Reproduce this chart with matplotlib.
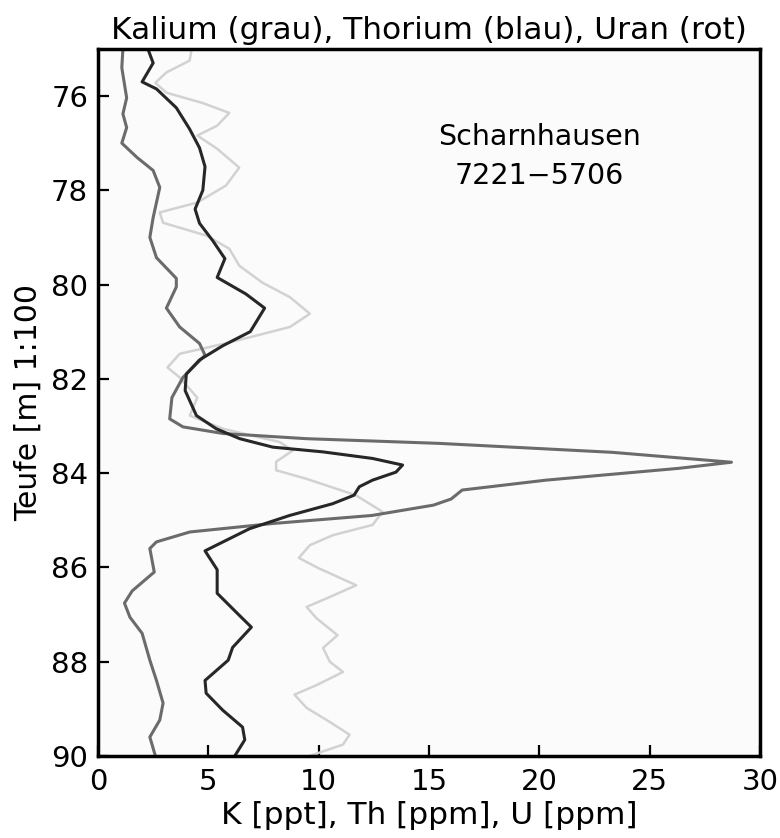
import matplotlib
matplotlib.use("Agg")
import matplotlib.pyplot as plt

# Kalium (light grey curve)
k_depth = [75.0, 75.25, 75.5, 75.72, 75.93, 76.15, 76.36, 76.63, 76.84, 77.12, 77.52, 77.9,
           78.26, 78.47, 78.69, 78.96, 79.24, 79.6, 79.96, 80.27, 80.62, 80.9, 81.23, 81.47,
           81.76, 81.97, 82.4, 82.78, 83.06, 83.34, 83.52, 83.76, 83.94, 84.12, 84.47, 84.82,
           85.1, 85.32, 85.53, 85.8, 86.02, 86.38, 86.63, 86.84, 87.08, 87.44, 87.71, 88.0,
           88.22, 88.5, 88.7, 88.98, 89.28, 89.55, 89.76, 90.0]
k_val = [4.25, 4.15, 3.1, 2.6, 3.1, 4.75, 5.95, 5.4, 4.5, 5.4, 6.4, 5.8,
         4.5, 2.8, 2.95, 4.9, 5.95, 6.4, 7.45, 8.7, 9.6, 8.7, 5.95, 3.7,
         3.15, 3.7, 4.5, 4.16, 5.66, 8.22, 8.83, 8.07, 8.07, 9.43, 11.68, 12.89,
         12.44, 10.63, 9.6, 9.1, 10.0, 11.7, 10.5, 9.45, 9.9, 10.85, 10.2, 10.5,
         11.1, 9.9, 8.9, 9.45, 10.5, 11.4, 11.1, 9.6]

# Thorium (dark curve)
th_depth = [75.0, 75.3, 75.7, 75.85, 76.25, 76.7, 77.1, 77.5, 78.0, 78.4, 78.7, 79.07,
            79.45, 79.85, 80.2, 80.5, 81.0, 81.3, 81.6, 81.9, 82.25, 82.78, 83.06, 83.27,
            83.45, 83.55, 83.69, 83.83, 83.98, 84.15, 84.29, 84.47, 84.65, 84.9, 85.18, 85.65,
            86.05, 86.55, 86.97, 87.27, 87.7, 87.97, 88.4, 88.67, 89.03, 89.39, 89.66, 90.0]
th_val = [2.26, 2.5, 2.0, 2.65, 3.55, 4.15, 4.6, 4.85, 4.75, 4.4, 4.6, 5.2,
          5.75, 5.4, 6.7, 7.55, 6.9, 5.65, 4.6, 4.0, 3.95, 4.46, 5.36, 6.42,
          7.92, 10.18, 12.44, 13.8, 13.5, 12.44, 11.84, 11.6, 10.63, 8.68, 6.87, 4.85,
          5.4, 5.4, 6.3, 6.95, 6.1, 5.9, 4.85, 4.9, 5.65, 6.55, 6.65, 6.2]

# Uran (medium grey curve)
u_depth = [75.0, 75.4, 76.04, 76.38, 76.67, 77.0, 77.3, 77.58, 77.94, 78.58, 79.0, 79.43,
           79.87, 80.05, 80.5, 80.9, 81.25, 81.5, 81.97, 82.4, 82.85, 83.02, 83.16, 83.27,
           83.37, 83.56, 83.77, 83.9, 84.15, 84.36, 84.55, 84.68, 84.9, 85.07, 85.25, 85.46,
           85.6, 86.1, 86.5, 86.76, 87.06, 87.4, 87.97, 88.4, 88.88, 89.24, 89.6, 90.0]
u_val = [1.13, 1.08, 1.3, 1.13, 1.3, 1.08, 1.76, 2.5, 2.8, 2.5, 2.35, 2.65,
         3.55, 3.55, 3.1, 3.7, 4.6, 4.85, 3.85, 3.35, 3.25, 3.85, 5.66, 9.43,
         15.45, 23.3, 28.7, 26.3, 20.3, 16.5, 16.0, 15.2, 12.4, 7.92, 4.16, 2.65,
         2.35, 2.55, 1.55, 1.2, 1.45, 2.0, 2.35, 2.65, 2.95, 2.8, 2.35, 2.6]

xticks = [0, 5, 10, 15, 20, 25, 30]
yticks = [76, 78, 80, 82, 84, 86, 88, 90]

fig = plt.figure(figsize=(7.8, 8.38), dpi=100)
ax = fig.add_axes([0.1256, 0.098, 0.849, 0.8437])
ax.set_facecolor('#fbfbfb')

ax.plot(k_val, k_depth, color='#d2d2d2', lw=1.8, solid_joinstyle='round')
ax.plot(u_val, u_depth, color='#6b6b6b', lw=2.2, solid_joinstyle='round')
ax.plot(th_val, th_depth, color='#272727', lw=2.2, solid_joinstyle='round')

ax.set_xlim(0, 30)
ax.set_ylim(90, 75)
ax.set_xticks(xticks)
ax.set_yticks(yticks)
ax.tick_params(direction='in', length=8, width=1.6, labelsize=21)
ax.tick_params(axis='x', pad=9)
ax.tick_params(axis='y', pad=7)
for s in ax.spines.values():
    s.set_linewidth(2.5)

ax.set_title('Kalium (grau), Thorium (blau), Uran (rot)', fontsize=22.5, pad=7)
ax.set_xlabel('K [ppt], Th [ppm], U [ppm]', fontsize=22.5, labelpad=3)
ax.set_ylabel('Teufe [m] 1:100', fontsize=21.5, labelpad=6)

ax.text(20, 76.86, 'Scharnhausen', fontsize=20.5, ha='center', va='center')
ax.text(20, 77.69, '7221\u22125706', fontsize=20.5, ha='center', va='center')

plt.savefig('out.png', dpi=100)
